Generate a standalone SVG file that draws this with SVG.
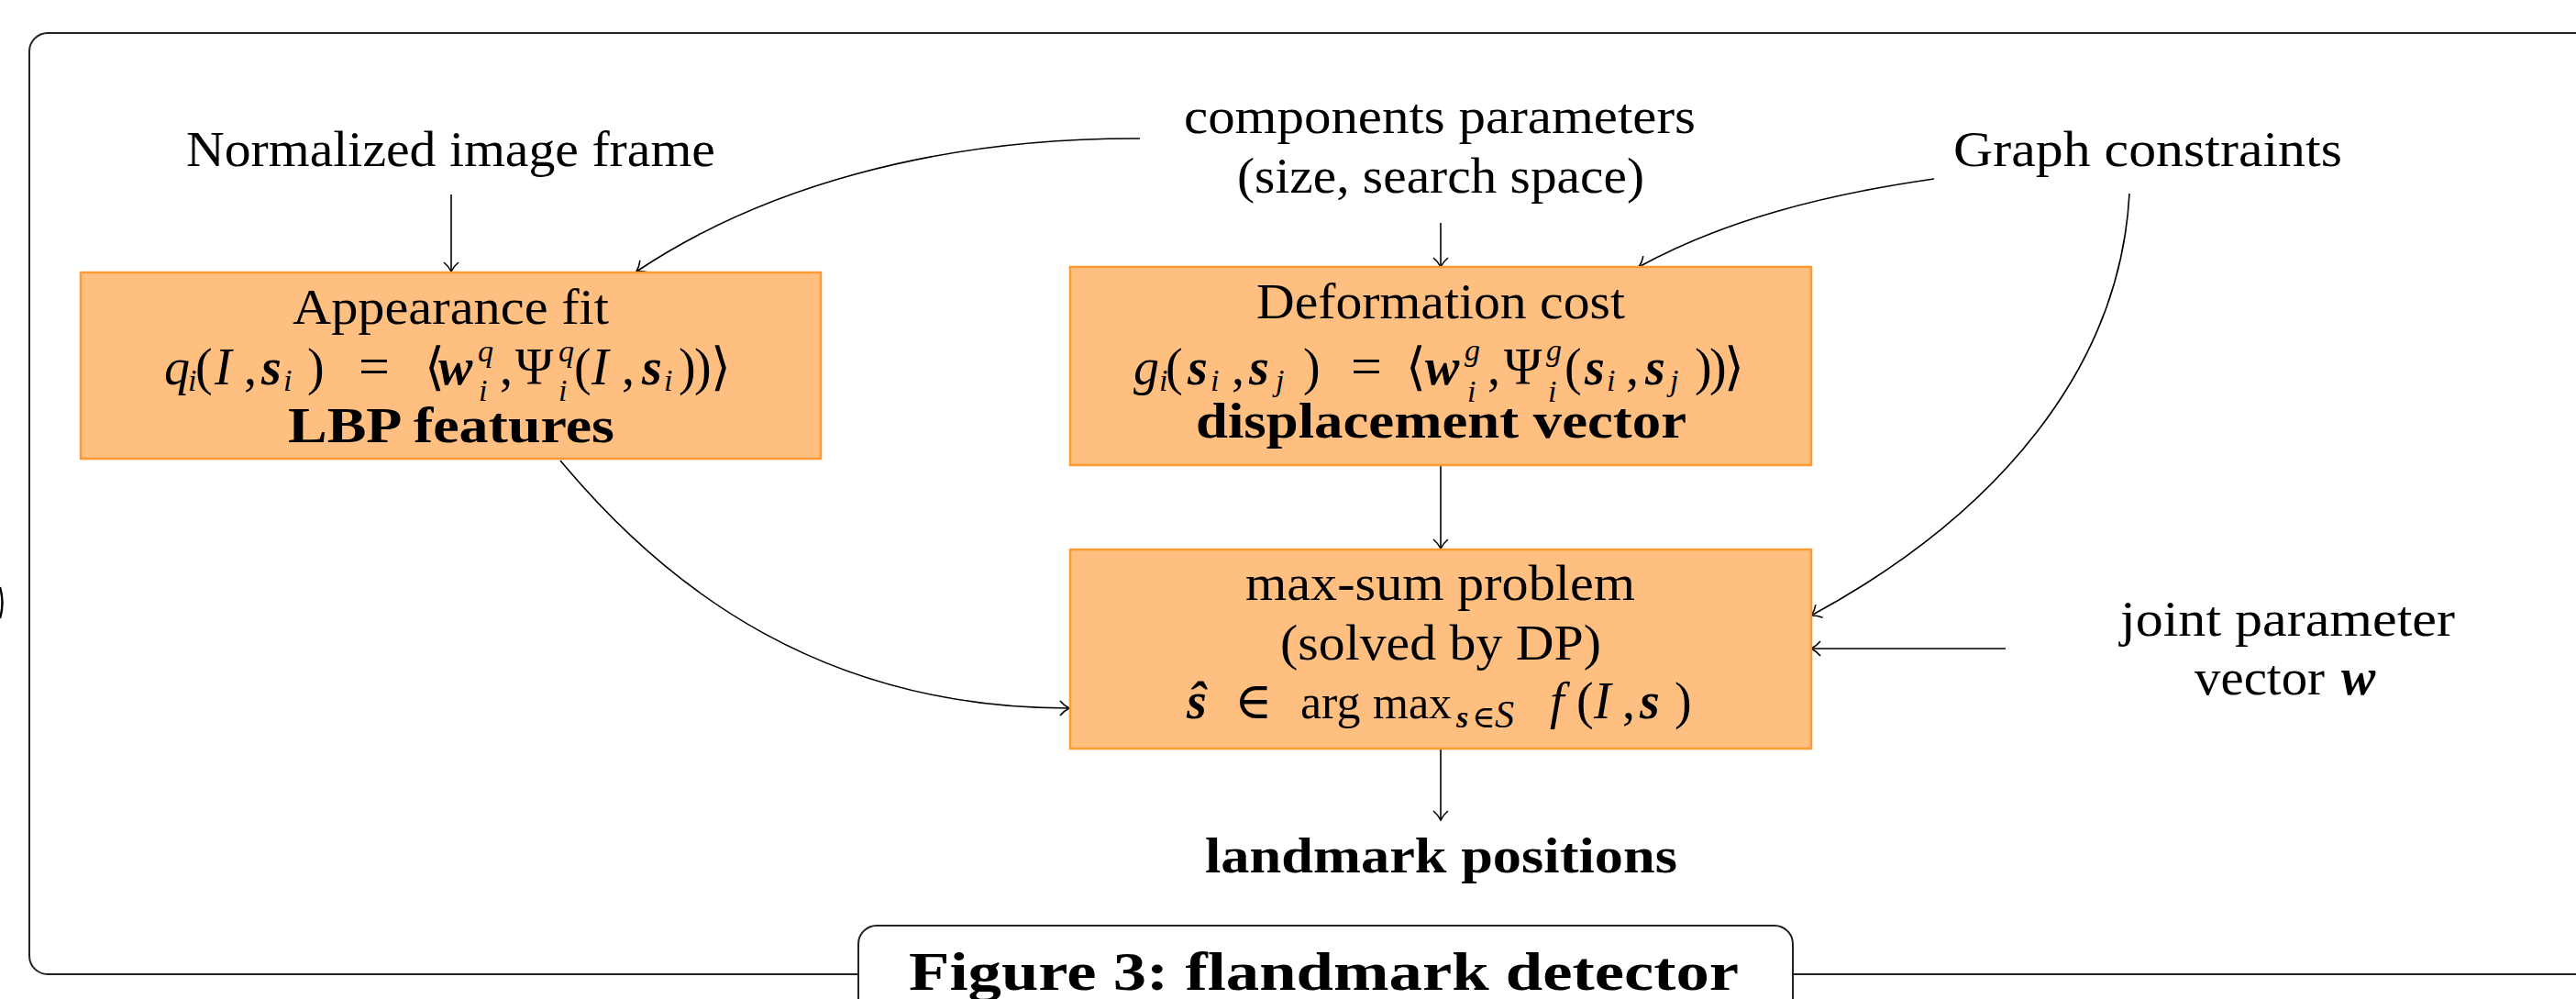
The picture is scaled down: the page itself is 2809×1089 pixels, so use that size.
<svg xmlns="http://www.w3.org/2000/svg" width="2809" height="1089" viewBox="0 0 2809 1089">
<style>
text{font-family:"Liberation Serif","DejaVu Serif",serif;fill:#000;font-size:54px}
.b{font-weight:bold}
.m{font-size:56px}
.it{font-style:italic}
.bi{font-style:italic;font-weight:bold}
.sc{font-size:34px}
.eq{font-size:60px}
.box{fill:#ffbf80;stroke:#ff9933;stroke-width:2.5}
.con{fill:none;stroke:#000;stroke-width:1.6;marker-end:url(#arr)}
.frame{fill:#fff;stroke:#222;stroke-width:2}
</style>
<defs>
<marker id="arr" markerUnits="userSpaceOnUse" viewBox="-15 -15 30 30" markerWidth="30" markerHeight="30" refX="0" refY="0" orient="auto" overflow="visible">
<path d="M-10,-8 C-6,-3 -2,-1 0,0 C-2,1 -6,3 -10,8" fill="none" stroke="#000" stroke-width="1.6"/>
</marker>
</defs>
<rect width="2809" height="1089" fill="#fff"/>
<g id="frame">
<rect class="frame" x="32" y="36" width="2860" height="1026" rx="20" ry="20"/>
<path d="M0,640 Q5,657 0,674" fill="none" stroke="#000" stroke-width="2.5"/>
</g>
<g id="connectors">
<path class="con" d="M492,212 L492,296"/>
<path class="con" d="M1571,243 L1571,291"/>
<path class="con" d="M1243,151 C1020,150 830,205 694,296"/>
<path class="con" d="M2109,195 C1990,212 1880,240 1787,291"/>
<path class="con" d="M2322,211 C2312,400 2180,560 1975,671"/>
<path class="con" d="M2187,707 L1975,707"/>
<path class="con" d="M1571,507 L1571,598"/>
<path class="con" d="M1571,816 L1571,894"/>
<path class="con" d="M611,502 C730,645 900,772 1166,772"/>
</g>
<g id="normalized">
<text x="203" y="181" textLength="577" lengthAdjust="spacingAndGlyphs">Normalized image frame</text>
</g>
<g id="components">
<text x="1291" y="145" textLength="558" lengthAdjust="spacingAndGlyphs">components parameters</text>
<text x="1349" y="210" textLength="444" lengthAdjust="spacingAndGlyphs">(size, search space)</text>
</g>
<g id="graph">
<text x="2130" y="181" textLength="424" lengthAdjust="spacingAndGlyphs">Graph constraints</text>
</g>
<g id="appearance">
<rect class="box" x="88" y="297" width="807" height="203"/>
<text x="319" y="353" textLength="345" lengthAdjust="spacingAndGlyphs">Appearance fit</text>
<text class="m"><tspan class="it" x="179" y="419">q</tspan><tspan class="it sc" x="205" y="426">i</tspan><tspan x="213" y="419">(</tspan><tspan class="it" x="234" y="419">I</tspan><tspan x="266" y="419">,</tspan><tspan class="bi" x="285" y="419">s</tspan><tspan class="it sc" x="309" y="426">i</tspan><tspan x="335" y="419">)</tspan><tspan class="eq" x="391" y="419">=</tspan><tspan x="463" y="419">⟨</tspan><tspan class="bi" x="478" y="419">w</tspan><tspan class="it sc" x="521" y="394">q</tspan><tspan class="it sc" x="522" y="437">i</tspan><tspan x="545" y="419">,</tspan><tspan x="562" y="419">Ψ</tspan><tspan class="it sc" x="609" y="394">q</tspan><tspan class="it sc" x="609" y="437">i</tspan><tspan x="626" y="419">(</tspan><tspan class="it" x="645" y="419">I</tspan><tspan x="678" y="419">,</tspan><tspan class="bi" x="700" y="419">s</tspan><tspan class="it sc" x="724" y="426">i</tspan><tspan x="740" y="419">)</tspan><tspan x="757" y="419">)</tspan><tspan x="775" y="419">⟩</tspan></text>
<text class="b" x="314" y="482" textLength="356" lengthAdjust="spacingAndGlyphs">LBP features</text>
</g>
<g id="deformation">
<rect class="box" x="1167" y="291" width="808" height="216"/>
<text x="1370" y="347" textLength="402" lengthAdjust="spacingAndGlyphs">Deformation cost</text>
<text class="m"><tspan class="it" x="1236" y="419">g</tspan><tspan class="it sc" x="1264" y="426">i</tspan><tspan x="1271" y="419">(</tspan><tspan class="bi" x="1295" y="419">s</tspan><tspan class="it sc" x="1320" y="426">i</tspan><tspan x="1343" y="419">,</tspan><tspan class="bi" x="1362" y="419">s</tspan><tspan class="it sc" x="1391" y="426">j</tspan><tspan x="1421" y="419">)</tspan><tspan class="eq" x="1473" y="419">=</tspan><tspan x="1533" y="419">⟨</tspan><tspan class="bi" x="1554" y="419">w</tspan><tspan class="it sc" x="1597" y="393">g</tspan><tspan class="it sc" x="1600" y="438">i</tspan><tspan x="1622" y="419">,</tspan><tspan x="1640" y="419">Ψ</tspan><tspan class="it sc" x="1686" y="393">g</tspan><tspan class="it sc" x="1688" y="438">i</tspan><tspan x="1706" y="419">(</tspan><tspan class="bi" x="1728" y="419">s</tspan><tspan class="it sc" x="1752" y="426">i</tspan><tspan x="1773" y="419">,</tspan><tspan class="bi" x="1794" y="419">s</tspan><tspan class="it sc" x="1821" y="426">j</tspan><tspan x="1848" y="419">)</tspan><tspan x="1864" y="419">)</tspan><tspan x="1880" y="419">⟩</tspan></text>
<text class="b" x="1304" y="477" textLength="535" lengthAdjust="spacingAndGlyphs">displacement vector</text>
</g>
<g id="maxsum">
<rect class="box" x="1167" y="599" width="808" height="217"/>
<text x="1358" y="654" textLength="425" lengthAdjust="spacingAndGlyphs">max-sum problem</text>
<text x="1396" y="719" textLength="350" lengthAdjust="spacingAndGlyphs">(solved by DP)</text>
<text class="m"><tspan class="bi" x="1294" y="783">ŝ</tspan><tspan x="1346" y="783">∈</tspan><tspan x="1418" y="783" style="font-size:52px">arg</tspan><tspan x="1497" y="783" style="font-size:50px">max</tspan><tspan class="bi sc" x="1588" y="793">s</tspan><tspan class="sc" x="1605" y="793">∈</tspan><tspan class="it" style="font-size:42px" x="1630" y="793">S</tspan><tspan class="it" x="1690" y="783">f</tspan><tspan x="1719" y="783">(</tspan><tspan class="it" x="1738" y="783">I</tspan><tspan x="1769" y="783">,</tspan><tspan class="bi" x="1788" y="783">s</tspan><tspan x="1826" y="783">)</tspan></text>
</g>
<g id="joint">
<text x="2312" y="693" textLength="365" lengthAdjust="spacingAndGlyphs">joint parameter</text>
<text><tspan x="2393" y="757" textLength="142" lengthAdjust="spacingAndGlyphs">vector</tspan><tspan class="bi m" x="2553" y="757">w</tspan></text>
</g>
<g id="landmarks">
<text class="b" x="1314" y="951" textLength="515" lengthAdjust="spacingAndGlyphs">landmark positions</text>
</g>
<g id="caption">
<rect class="frame" x="936" y="1009" width="1019" height="120" rx="20" ry="20"/>
<text class="b" style="font-size:60px" x="991" y="1079" textLength="905" lengthAdjust="spacingAndGlyphs">Figure 3:  flandmark detector</text>
</g>
</svg>
